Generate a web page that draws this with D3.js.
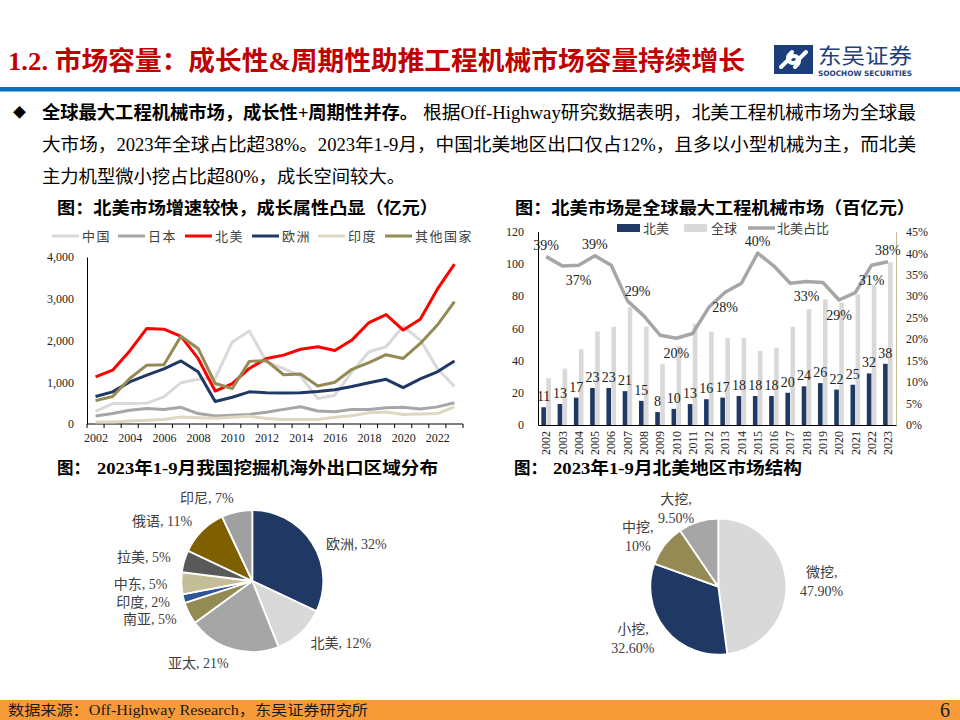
<!DOCTYPE html>
<html><head><meta charset="utf-8">
<script src="https://cdn.jsdelivr.net/npm/d3@7/dist/d3.min.js"></script>
<style>body{margin:0;background:#fff}svg{display:block}</style>
</head><body>
<svg id="c" width="960" height="720"></svg>
<script>
// ---------------- DATA ----------------
const years = [2002,2003,2004,2005,2006,2007,2008,2009,2010,2011,2012,2013,2014,2015,2016,2017,2018,2019,2020,2021,2022,2023];
const lineNames = ["中国","日本","北美","欧洲","印度","其他国家"];
const chinaVals  = [300,490,490,500,650,990,1070,1095,1965,2225,1490,1325,1150,610,690,1250,1730,1850,2340,2010,1330,900];
const japanVals  = [190,250,330,370,345,400,250,190,210,230,280,350,415,310,295,350,345,390,400,360,410,510];
const naVals     = [1130,1290,1750,2290,2270,2100,1570,790,970,1330,1570,1650,1790,1850,1760,2010,2430,2620,2250,2510,3230,3830];
const euVals     = [660,770,1010,1170,1320,1510,1250,540,640,770,750,740,750,780,820,900,990,1070,870,1080,1250,1510];
const indiaVals  = [45,50,70,90,110,170,150,135,160,185,130,110,105,110,160,200,270,290,230,240,250,410];
const otherVals  = [560,660,1090,1410,1420,2100,1810,970,850,1500,1520,1180,1200,910,1000,1310,1470,1660,1570,1930,2370,2930];
const leftYTicks = [0,1000,2000,3000,4000];
const leftXLabels = [2002,2004,2006,2008,2010,2012,2014,2016,2018,2020,2022];

const barNames = ["北美","全球","北美占比"];
const naBar      = [11,13,17,23,23,21,15,8,10,13,16,17,18,18,18,20,24,26,22,25,32,38];
const globalBar  = [29,35,47,58,61,73,61,38,49,63,58,54,54,46,48,61,72,78,76,81,87,101];
const naShare    = [39.2,37.0,37.2,39.4,37.2,28.9,25.4,20.9,20.2,21.3,27.4,30.9,33.0,40.0,37.0,33.0,33.4,33.2,29.1,30.8,37.2,38.0];
const shareLabels = ["39%","","37%","39%","","29%","","","20%","","","28%","","40%","","","33%","","29%","","31%","38%"];
const shareLabelPos = ["t","","b","t","","tr","","","b","","","b","","t","","","b","","b","","b","t"];
const rightYTicks = [0,20,40,60,80,100,120];
const rightPTicks = [0,5,10,15,20,25,30,35,40,45];

const pie1Names = ["欧洲","北美","亚太","南亚","印度","中东","拉美","俄语","印尼"];
const pie1Vals  = [32,12,21,5,2,5,5,11,7];
const pie2Names = ["微挖,","小挖,","中挖,","大挖,"];
const pie2Vals  = [47.9,32.6,10,9.5];
const pie2Text  = ["47.90%","32.60%","10%","9.50%"];

// ---------------- STYLE ----------------
const serif = "'Liberation Serif','Noto Sans CJK SC',serif";
const lineColors = ["#d9d9d9","#a6a6a6","#ff0000","#1f3864","#ddd8c0","#948a54"];
const pie1Colors = ["#1f3864","#d9d9d9","#a6a6a6","#948a54","#2f5597","#c4bd97","#595959","#7f6000","#a0a0a0"];
const pie2Colors = ["#d9d9d9","#1f3864","#948a54","#a6a6a6"];

const svg = d3.select("#c");
svg.attr("font-family", serif);

// ---------------- HEADER ----------------
svg.append("text").attr("x",8).attr("y",70).attr("font-size",26).attr("font-weight","bold")
  .attr("fill","#c00000").attr("textLength",737).attr("lengthAdjust","spacingAndGlyphs")
  .text("1.2. 市场容量：成长性&周期性助推工程机械市场容量持续增长");
svg.append("rect").attr("x",0).attr("y",87).attr("width",960).attr("height",4.5).attr("fill","#0070c0");

// logo
const logo = svg.append("g").attr("transform","translate(774,45)");
logo.append("rect").attr("width",39).attr("height",29).attr("fill","#1c3f7c");
logo.append("path").attr("d","M7,22 L17,12 A5,5 0 0 1 24,19 L21,22")
  .attr("stroke","#fff").attr("stroke-width",4).attr("fill","none").attr("stroke-linecap","round");
logo.append("path").attr("d","M32,7 L22,17 A5,5 0 0 1 15,10 L18,7")
  .attr("stroke","#fff").attr("stroke-width",4).attr("fill","none").attr("stroke-linecap","round");
svg.append("text").attr("x",818).attr("y",63).attr("font-size",21).attr("fill","#1e3f7b")
  .attr("font-family","'Noto Sans CJK SC',sans-serif").attr("textLength",94).attr("lengthAdjust","spacingAndGlyphs").text("东吴证券");
svg.append("text").attr("x",818).attr("y",76).attr("font-size",7.5).attr("font-weight","bold").attr("fill","#1e3f7b")
  .attr("font-family","'DejaVu Sans',sans-serif").attr("textLength",94).attr("lengthAdjust","spacingAndGlyphs").text("SOOCHOW SECURITIES");

// bullet text
svg.append("text").attr("x",13).attr("y",117).attr("font-size",13).attr("fill","#000").text("◆");
svg.append("text").attr("x",42).attr("y",118.5).attr("font-size",18).attr("font-weight","bold").attr("fill","#000")
  .attr("textLength",376).attr("lengthAdjust","spacingAndGlyphs").text("全球最大工程机械市场，成长性+周期性并存。");
svg.append("text").attr("x",423).attr("y",118.5).attr("font-size",18).attr("fill","#000")
  .attr("textLength",493).attr("lengthAdjust","spacingAndGlyphs").text("根据Off-Highway研究数据表明，北美工程机械市场为全球最");
svg.append("text").attr("x",42).attr("y",150.5).attr("font-size",18).attr("fill","#000")
  .attr("textLength",874).attr("lengthAdjust","spacingAndGlyphs").text("大市场，2023年全球占比超38%。2023年1-9月，中国北美地区出口仅占12%，且多以小型机械为主，而北美");
svg.append("text").attr("x",42).attr("y",182.5).attr("font-size",18).attr("fill","#000")
  .attr("textLength",363).attr("lengthAdjust","spacingAndGlyphs").text("主力机型微小挖占比超80%，成长空间较大。");

// chart titles
function title(x, y, txt, len){
  svg.append("text").attr("x",x).attr("y",y).attr("font-size",17).attr("font-weight","bold").attr("fill","#000")
    .attr("textLength",len).attr("lengthAdjust","spacingAndGlyphs").text(txt);
}
title(57,214,"图：北美市场增速较快，成长属性凸显（亿元）",381);
title(515,214,"图：北美市场是全球最大工程机械市场（百亿元）",400);
title(57,474,"图：",33);
title(97,474,"2023年1-9月我国挖掘机海外出口区域分布",341);
title(514,474,"图：",33);
title(553,474,"2023年1-9月北美地区市场结构",249);

// ---------------- LEFT LINE CHART ----------------
const xL = d3.scalePoint().domain(years).range([87,463]).padding(0.5);
const yL = d3.scaleLinear().domain([0,4000]).range([424,257]);
const gL = svg.append("g");
const yAxL = gL.append("g").attr("transform","translate(87,0)")
  .call(d3.axisLeft(yL).tickValues(leftYTicks).tickSize(0).tickPadding(13).tickFormat(d3.format(",")));
yAxL.select(".domain").attr("stroke","#000");
yAxL.selectAll("text").attr("font-size",12).attr("fill","#222").attr("font-family",serif);
const xAxL = gL.append("g").attr("transform","translate(0,424)")
  .call(d3.axisBottom(xL).tickValues(leftXLabels).tickSize(0).tickPadding(9));
xAxL.select(".domain").attr("stroke","#000").attr("d","M87,0H463");
xAxL.selectAll("text").attr("font-size",12).attr("fill","#222").attr("font-family",serif);
const stepL = xL.step();
gL.selectAll("line.bt").data(years.concat([null])).join("line").attr("class","bt")
  .attr("x1",(d,i)=> i<years.length ? xL(years[i]) - stepL/2 : xL(years[years.length-1]) + stepL/2)
  .attr("x2",(d,i)=> i<years.length ? xL(years[i]) - stepL/2 : xL(years[years.length-1]) + stepL/2)
  .attr("y1",424).attr("y2",428).attr("stroke","#000").attr("stroke-width",1);

const lineSeries = [chinaVals, japanVals, naVals, euVals, indiaVals, otherVals];
const lineGen = d3.line().x((d,i)=>xL(years[i])).y(d=>yL(d));
lineSeries.forEach((s,k)=>{
  gL.append("path").attr("d",lineGen(s)).attr("fill","none").attr("stroke",lineColors[k])
    .attr("stroke-width",3).attr("stroke-linejoin","round");
});
// legend
const legLX = [52,118,185,252,318,385];
lineNames.forEach((n,k)=>{
  gL.append("line").attr("x1",legLX[k]).attr("x2",legLX[k]+27).attr("y1",236).attr("y2",236)
    .attr("stroke",lineColors[k]).attr("stroke-width",3);
  gL.append("text").attr("x",legLX[k]+30).attr("y",241).attr("font-size",13).attr("fill","#404040")
    .attr("letter-spacing",1.5).text(n);
});

// ---------------- RIGHT BAR CHART ----------------
const xR = d3.scaleBand().domain(years).range([538,896]);
const sub = d3.scaleBand().domain(["na","gl"]).range([0,xR.bandwidth()]).paddingInner(0.08).paddingOuter(0.667);
const yR = d3.scaleLinear().domain([0,120]).range([425,231.7]);
const yP = d3.scaleLinear().domain([0,45]).range([425,231.7]);
const gR = svg.append("g");
gR.selectAll("rect.gl").data(globalBar).join("rect").attr("class","gl")
  .attr("x",(d,i)=>xR(years[i])+sub("gl")).attr("width",sub.bandwidth())
  .attr("y",d=>yR(d)).attr("height",d=>yR(0)-yR(d)).attr("fill","#d9d9d9");
gR.selectAll("rect.na").data(naBar).join("rect").attr("class","na")
  .attr("x",(d,i)=>xR(years[i])+sub("na")).attr("width",sub.bandwidth())
  .attr("y",d=>yR(d)).attr("height",d=>yR(0)-yR(d)).attr("fill","#1f3864");
const yAxR = gR.append("g").attr("transform","translate(538,0)")
  .call(d3.axisLeft(yR).tickValues(rightYTicks).tickSize(0).tickPadding(14));
yAxR.select(".domain").attr("stroke","#000");
yAxR.selectAll("text").attr("font-size",12).attr("fill","#222").attr("font-family",serif);
const pAxR = gR.append("g").attr("transform","translate(896,0)")
  .call(d3.axisRight(yP).tickValues(rightPTicks).tickSize(0).tickPadding(10).tickFormat(d=>d+"%"));
pAxR.select(".domain").attr("stroke","#c4bd97");
pAxR.selectAll("text").attr("font-size",12).attr("fill","#222").attr("font-family",serif);
const xAxR = gR.append("g").attr("transform","translate(0,425)")
  .call(d3.axisBottom(xR).tickSize(0).tickFormat(""));
xAxR.select(".domain").attr("stroke","#000");
gR.selectAll("text.yr").data(years).join("text").attr("class","yr")
  .attr("transform",d=>`translate(${xR(d)+xR.bandwidth()/2},431) rotate(-90)`)
  .attr("text-anchor","end").attr("dy","0.35em").attr("font-size",12).attr("fill","#222").text(d=>d);
// share line
const shareLine = d3.line().x((d,i)=>xR(years[i])+xR.bandwidth()/2).y(d=>yP(d));
gR.append("path").attr("d",shareLine(naShare)).attr("fill","none").attr("stroke","#a6a6a6")
  .attr("stroke-width",3.5).attr("stroke-linejoin","round");
// bar labels
gR.selectAll("text.bl").data(naBar).join("text").attr("class","bl")
  .attr("x",(d,i)=>xR(years[i])+sub("na")+sub.bandwidth()/2).attr("y",d=>yR(d)-6)
  .attr("text-anchor","middle").attr("font-size",14).attr("fill","#222").text(d=>d);
// share labels
const posOff = {t:[0,-12], b:[0,15], tr:[10,-10]};
gR.selectAll("text.sl").data(shareLabels).join("text").attr("class","sl")
  .attr("x",(d,i)=>xR(years[i])+xR.bandwidth()/2 + (posOff[shareLabelPos[i]]||[0,0])[0])
  .attr("y",(d,i)=>yP(naShare[i]) + (posOff[shareLabelPos[i]]||[0,0])[1])
  .attr("dy","0.35em").attr("text-anchor","middle").attr("font-size",14).attr("fill","#222").text(d=>d);
// legend
const legR = gR.append("g");
legR.append("rect").attr("x",617).attr("y",224).attr("width",23).attr("height",8).attr("fill","#1f3864");
legR.append("text").attr("x",643).attr("y",233).attr("font-size",13).attr("fill","#404040").text(barNames[0]);
legR.append("rect").attr("x",684).attr("y",224).attr("width",23).attr("height",8).attr("fill","#d9d9d9");
legR.append("text").attr("x",711).attr("y",233).attr("font-size",13).attr("fill","#404040").text(barNames[1]);
legR.append("line").attr("x1",748).attr("x2",775).attr("y1",228).attr("y2",228).attr("stroke","#a6a6a6").attr("stroke-width",3.5);
legR.append("text").attr("x",777).attr("y",233).attr("font-size",13).attr("fill","#404040").text(barNames[2]);

// ---------------- PIE 1 ----------------
const pie = d3.pie().sort(null).value(d=>d);
function drawPie(vals, colors, cx, cy, r){
  const arcs = pie(vals);
  const g = svg.append("g").attr("transform",`translate(${cx},${cy})`);
  g.selectAll("path").data(arcs).join("path")
    .attr("d", d3.arc().innerRadius(0).outerRadius(r))
    .attr("fill",(d,i)=>colors[i]).attr("stroke","#fff").attr("stroke-width",1.8);
  return {arcs, g};
}
const p1 = drawPie(pie1Vals, pie1Colors, 252.3, 581, 71);
p1.arcs.forEach((a,i)=>{
  const m = (a.startAngle + a.endAngle)/2, s = Math.sin(m), c = Math.cos(m);
  const R = 71 + 14;
  const dyExtra = (s>0.5 && c>0.3) ? 9 : 0;
  p1.g.append("text").attr("x", R*s + (dyExtra?2:0)).attr("y", -R*c + dyExtra).attr("dy","0.35em")
    .attr("text-anchor", s>0.1 ? "start" : (s<-0.1 ? "end" : "middle"))
    .attr("font-size",14).attr("fill","#404040").text(pie1Names[i] + ", " + pie1Vals[i] + "%");
});

// ---------------- PIE 2 ----------------
const p2 = drawPie(pie2Vals, pie2Colors, 718.3, 586.7, 68);
p2.arcs.forEach((a,i)=>{
  const m = (a.startAngle + a.endAngle)/2, s = Math.sin(m), c = Math.cos(m);
  const R = 68 + 14;
  const t = p2.g.append("text").attr("font-size",14).attr("fill","#404040").attr("text-anchor","middle");
  const l1 = t.append("tspan").text(pie2Names[i]);
  const l2 = t.append("tspan").text(pie2Text[i]);
  const w = Math.max(l1.node().getComputedTextLength(), l2.node().getComputedTextLength());
  let bx = R*s;
  if (s>0.1) bx += w/2; else if (s<-0.1) bx -= w/2;
  const by = -R*c;
  l1.attr("x",bx).attr("y",by-9.5).attr("dy","0.35em");
  l2.attr("x",bx).attr("y",by+9.5).attr("dy","0.35em");
});

// ---------------- FOOTER ----------------
svg.append("rect").attr("x",0).attr("y",700).attr("width",960).attr("height",20).attr("fill","#f79a38");
svg.append("text").attr("x",8).attr("y",715).attr("font-size",14).attr("fill","#1a1a1a")
  .attr("textLength",360).attr("lengthAdjust","spacingAndGlyphs").text("数据来源：Off-Highway Research，东吴证券研究所");
svg.append("text").attr("x",950).attr("y",717).attr("text-anchor","end").attr("font-size",20).attr("fill","#1a1a1a").text("6");
</script>
</body></html>
